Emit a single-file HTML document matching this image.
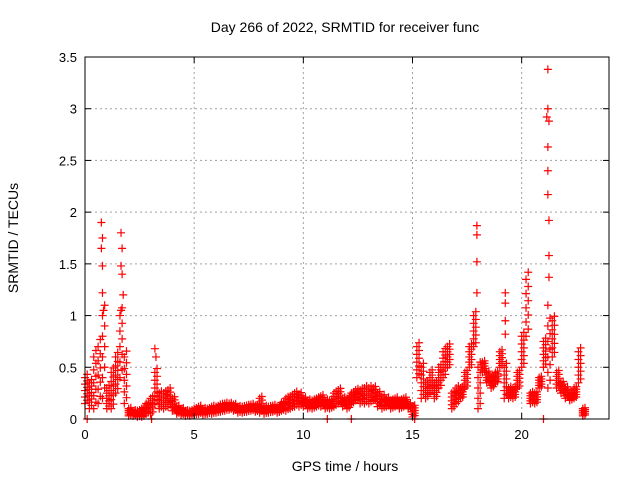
<!DOCTYPE html>
<html><head><meta charset="utf-8"><style>
body{margin:0;background:#fff}
svg{display:block;font-family:"Liberation Sans",sans-serif}
</style></head><body>
<svg id="c" width="640" height="480">
<rect width="640" height="480" fill="#fff"/>
<text x="345" y="32" font-size="14" text-anchor="middle">Day 266 of 2022, SRMTID for receiver func</text>
<text x="345" y="471" font-size="14" text-anchor="middle">GPS time / hours</text>
<text transform="translate(18,238) rotate(-90)" font-size="14" text-anchor="middle">SRMTID / TECUs</text>
<g id="grid"></g><g id="marks"></g><g id="axes"></g>
</svg>
<script>
const xTicks=[0,5,10,15,20];
const yTicks=[0,0.5,1,1.5,2,2.5,3,3.5];
const yTickLabels=["0","0.5","1","1.5","2","2.5","3","3.5"];
const times=[0,0.2,0.4,0.6,0.8,1.0,1.2,1.4,1.6,1.8,2.0,2.2,2.4,2.6,2.8,3.0,3.2,3.4,3.6,3.8,4.0,4.2,4.4,4.6,4.8,5.0,5.2,5.4,5.6,5.8,6.0,6.2,6.4,6.6,6.8,7.0,7.2,7.4,7.6,7.8,8.0,8.2,8.4,8.6,8.8,9.0,9.2,9.4,9.6,9.8,10.0,10.2,10.4,10.6,10.8,11.0,11.2,11.4,11.6,11.8,12.0,12.2,12.4,12.6,12.8,13.0,13.2,13.4,13.6,13.8,14.0,14.2,14.4,14.6,14.8,15.0,15.2,15.4,15.6,15.8,16.0,16.2,16.4,16.6,16.8,17.0,17.2,17.4,17.6,17.8,18.0,18.2,18.4,18.6,18.8,19.0,19.2,19.4,19.6,19.8,20.0,20.2,20.4,20.6,20.8,21.0,21.2,21.4,21.6,21.8,22.0,22.2,22.4,22.6,22.8];
const lowVals=[0.15,0.1,0.1,0.15,0.2,0.1,0.1,0.25,0.4,0.15,0.03,0.03,0.02,0.02,0.05,0.05,0.15,0.1,0.1,0.12,0.08,0.05,0.04,0.03,0.03,0.04,0.05,0.04,0.05,0.05,0.06,0.07,0.08,0.09,0.08,0.06,0.06,0.07,0.08,0.07,0.06,0.05,0.06,0.07,0.06,0.08,0.08,0.1,0.12,0.12,0.12,0.1,0.1,0.12,0.12,0.1,0.1,0.12,0.15,0.12,0.1,0.15,0.18,0.15,0.15,0.15,0.18,0.12,0.1,0.12,0.1,0.12,0.1,0.12,0.1,0.02,0.4,0.2,0.2,0.25,0.2,0.3,0.4,0.5,0.1,0.15,0.2,0.3,0.5,0.7,0.1,0.45,0.35,0.3,0.35,0.5,0.2,0.2,0.2,0.3,0.5,0.8,0.15,0.15,0.3,0.5,0.3,0.6,0.3,0.25,0.2,0.18,0.2,0.35,0.03];
const highVals=[0.4,0.35,0.6,0.7,1.0,0.3,0.45,0.6,1.0,0.6,0.1,0.08,0.08,0.1,0.15,0.2,0.45,0.25,0.25,0.28,0.2,0.12,0.1,0.08,0.08,0.1,0.12,0.1,0.1,0.12,0.12,0.14,0.15,0.15,0.14,0.12,0.12,0.13,0.14,0.13,0.2,0.12,0.12,0.13,0.12,0.16,0.2,0.22,0.25,0.24,0.2,0.18,0.18,0.2,0.22,0.18,0.18,0.25,0.28,0.2,0.2,0.25,0.28,0.28,0.3,0.3,0.3,0.25,0.22,0.2,0.18,0.2,0.18,0.2,0.15,0.12,0.7,0.5,0.35,0.45,0.35,0.5,0.65,0.7,0.25,0.3,0.3,0.45,0.7,1.0,0.5,0.55,0.45,0.4,0.45,0.65,0.5,0.3,0.3,0.45,0.8,1.35,0.25,0.25,0.4,0.75,0.9,0.95,0.45,0.35,0.3,0.25,0.3,0.65,0.1];
const spikeTimes=[0.75,0.8,0.75,0.8,0.8,0.85,1.65,1.7,1.65,1.7,1.75,1.65,3.2,3.25,17.95,17.95,17.95,17.95,19.25,19.25,19.25,19.25,21.2,21.2,21.15,21.25,21.2,21.2,21.2,21.25,21.25,21.25,21.2,0.1,3.05,11.1,12.2,15.1,21.0];
const spikeVals=[1.9,1.75,1.65,1.48,1.22,1.05,1.8,1.65,1.48,1.4,1.2,1.05,0.68,0.6,1.87,1.78,1.52,1.22,1.22,1.12,0.95,0.82,3.38,3.0,2.92,2.88,2.63,2.4,2.17,1.92,1.58,1.37,1.1,0,0,0,0,0,0];
const X0=85,X1=609,Y0=419,Y1=57;
const xs=v=>X0+v*(X1-X0)/24, ys=v=>Y0-v*(Y0-Y1)/3.5;
const NS="http://www.w3.org/2000/svg";
function mk(t,p,a){const e=document.createElementNS(NS,t);for(const k in a)e.setAttribute(k,a[k]);p.appendChild(e);return e;}
const grid=document.getElementById('grid'),marks=document.getElementById('marks'),axes=document.getElementById('axes');
xTicks.forEach((t,i)=>{const x=xs(t);
 if(t>0){const g=mk('line',grid,{x1:x,x2:x,y1:Y1,y2:Y0,stroke:'#a0a0a0','stroke-dasharray':'2,3'});
 
 }
 mk('line',axes,{x1:x,x2:x,y1:Y0,y2:Y0-6,stroke:'#000'});mk('line',axes,{x1:x,x2:x,y1:Y1,y2:Y1+6,stroke:'#000'});
 const l=mk('text',axes,{x:x,y:Y0+20,'font-size':13,'text-anchor':'middle'});l.textContent=t;
 
 });
yTicks.forEach((t,i)=>{const y=ys(t);
 if(t>0&&t<3.5){const g=mk('line',grid,{x1:X0,x2:X1,y1:y,y2:y,stroke:'#a0a0a0','stroke-dasharray':'2,3'});
 
 }
 mk('line',axes,{x1:X0,x2:X0+6,y1:y,y2:y,stroke:'#000'});mk('line',axes,{x1:X1,x2:X1-6,y1:y,y2:y,stroke:'#000'});
 const l=mk('text',axes,{x:X0-8,y:y+5,'font-size':13,'text-anchor':'end'});l.textContent=yTickLabels[i];
 
 });
const box=mk('rect',axes,{x:X0,y:Y1,width:X1-X0,height:Y0-Y1,fill:'none',stroke:'#000'});


function plus(t,v,col){const x=xs(t),y=ys(v);
 const p=mk('path',marks,{d:`M${x-4},${y}h8M${x},${y-4}v8`,stroke:col,'stroke-width':1.2,fill:'none'});
 
 }
times.forEach((t,i)=>{const lo=lowVals[i],hi=highVals[i];
 for(let k=0;k<=4;k++){for(let j=0;j<2;j++){plus(t+j*0.1,lo+(hi-lo)*((k+j*0.5)/4),'#ff0000');}}});
spikeTimes.forEach((t,i)=>plus(t,spikeVals[i],'#ff0000'));
</script>
</body></html>
